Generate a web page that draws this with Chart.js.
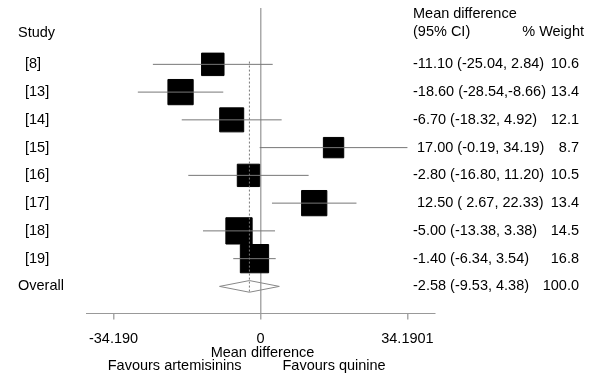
<!DOCTYPE html>
<html>
<head>
<meta charset="utf-8">
<script src="https://cdn.jsdelivr.net/npm/chart.js@4/dist/chart.umd.min.js"></script>
<style>
  body { margin: 0; background: #fff; }
  canvas { display: block; }
</style>
</head>
<body>
<canvas id="forest" width="600" height="390"></canvas>
<script>
// study data
const studies = ['[8]', '[13]', '[14]', '[15]', '[16]', '[17]', '[18]', '[19]']
const meanDiff = [-11.10, -18.60, -6.70, 17.00, -2.80, 12.50, -5.00, -1.40]
const ciLow = [-25.04, -28.54, -18.32, -0.19, -16.80, 2.67, -13.38, -6.34]
const ciHigh = [2.84, -8.66, 4.92, 34.19, 11.20, 22.33, 3.38, 3.54]
const weights = [10.6, 13.4, 12.1, 8.7, 10.5, 13.4, 14.5, 16.8]

const overallLabel = 'Overall'
const overallMean = -2.58
const overallLow = -9.53
const overallHigh = 4.38
const overallWeight = 100.0

const xTicks = [-34.19, 0, 34.19]
const xTickLabels = ['-34.190', '0', '34.1901']

const FAMILY = '"Liberation Sans", Arial, sans-serif'
const FONT = '14.5px ' + FAMILY

// rows: 1..8 studies, 9 overall
const rows = studies.map((s, i) => i + 1)
const overallRow = studies.length + 1

const fmt = v => (v < 0 ? v.toFixed(2) : ' ' + v.toFixed(2))
const ciText = (m, l, h) => fmt(m) + ' (' + fmt(l) + ',' + fmt(h) + ')'

// CI whiskers, broken up with nulls
const whiskers = []
rows.forEach((r, i) => {
  whiskers.push({ x: ciLow[i], y: r }, { x: ciHigh[i], y: r }, { x: null, y: null })
})

const squares = rows.map((r, i) => ({ x: meanDiff[i], y: r }))
// side of square ~ sqrt(weight), pointStyle rect side = radius * sqrt2
const squareRadius = weights.map(w => 6.9 * Math.sqrt(w) / Math.SQRT2)

const dh = 0.21
const diamond = [
  { x: overallLow, y: overallRow },
  { x: overallMean, y: overallRow - dh },
  { x: overallHigh, y: overallRow },
  { x: overallMean, y: overallRow + dh },
  { x: overallLow, y: overallRow }
]

const overallLine = [{ x: overallMean, y: 0.9 }, { x: overallMean, y: overallRow + 0.2 }]

const textPlugin = {
  id: 'forestText',
  afterDraw(chart) {
    const ctx = chart.ctx
    const xs = chart.scales.x
    const ys = chart.scales.y
    ctx.save()
    ctx.font = FONT
    ctx.fillStyle = '#000'
    ctx.textBaseline = 'middle'

    // headers
    ctx.textAlign = 'left'
    ctx.fillText('Study', 18, 33)
    ctx.fillText('Mean difference', 413, 14)
    ctx.fillText('(95% CI)', 413, 32)
    ctx.textAlign = 'right'
    ctx.fillText('% Weight', 584, 32)

    rows.forEach((r, i) => {
      const y = ys.getPixelForValue(r)
      ctx.textAlign = 'left'
      ctx.fillText(studies[i], 25, y)
      ctx.fillText(ciText(meanDiff[i], ciLow[i], ciHigh[i]), 413, y)
      ctx.textAlign = 'right'
      ctx.fillText(weights[i].toFixed(1), 579, y)
    })
    const yo = ys.getPixelForValue(overallRow)
    ctx.textAlign = 'left'
    ctx.fillText(overallLabel, 18, yo)
    ctx.fillText(ciText(overallMean, overallLow, overallHigh), 413, yo)
    ctx.textAlign = 'right'
    ctx.fillText(overallWeight.toFixed(1), 579, yo)

    // axis title and favours labels
    const x0 = xs.getPixelForValue(0)
    const yb = chart.chartArea.bottom
    ctx.textAlign = 'center'
    ctx.fillText('Mean difference', x0 + 2, yb + 39)
    ctx.textAlign = 'right'
    ctx.fillText('Favours artemisinins', x0 - 19, yb + 52)
    ctx.textAlign = 'left'
    ctx.fillText('Favours quinine', x0 + 22, yb + 52)
    ctx.restore()
  }
}

new Chart(document.getElementById('forest'), {
  type: 'scatter',
  data: {
    datasets: [
      {
        data: overallLine,
        showLine: true,
        borderColor: '#777',
        borderWidth: 1,
        borderDash: [2, 2],
        pointRadius: 0
      },
      {
        data: whiskers,
        showLine: true,
        spanGaps: false,
        borderColor: '#777',
        borderWidth: 1,
        pointRadius: 0
      },
      {
        data: squares,
        pointStyle: 'rect',
        pointRadius: squareRadius,
        backgroundColor: '#000',
        borderColor: '#000',
        borderWidth: 1
      },
      {
        data: diamond,
        showLine: true,
        borderColor: '#888',
        borderWidth: 1,
        backgroundColor: '#fff',
        pointRadius: 0
      }
    ]
  },
  options: {
    responsive: false,
    animation: false,
    events: [],
    layout: { autoPadding: false, padding: { left: 86, right: 165, top: 8, bottom: 31 } },
    plugins: { legend: { display: false }, tooltip: { enabled: false } },
    scales: {
      x: {
        type: 'linear',
        min: -40.6,
        max: 40.6,
        afterBuildTicks: scale => { scale.ticks = xTicks.map(v => ({ value: v })) },
        ticks: {
          autoSkip: false,
          maxRotation: 0,
          padding: 11,
          color: '#000',
          font: { family: FAMILY, size: 14.5 },
          callback: (v, i) => xTickLabels[i]
        },
        grid: {
          drawOnChartArea: true,
          color: c => (c.tick && c.tick.value === 0 ? '#aaa' : 'rgba(0,0,0,0)'),
          tickColor: '#aaa',
          tickLength: 6,
          lineWidth: 1.5
        },
        border: { color: '#999', width: 1 }
      },
      y: {
        type: 'linear',
        display: false,
        reverse: true,
        min: -1.03,
        max: 9.98
      }
    }
  },
  plugins: [textPlugin]
})
</script>
</body>
</html>
